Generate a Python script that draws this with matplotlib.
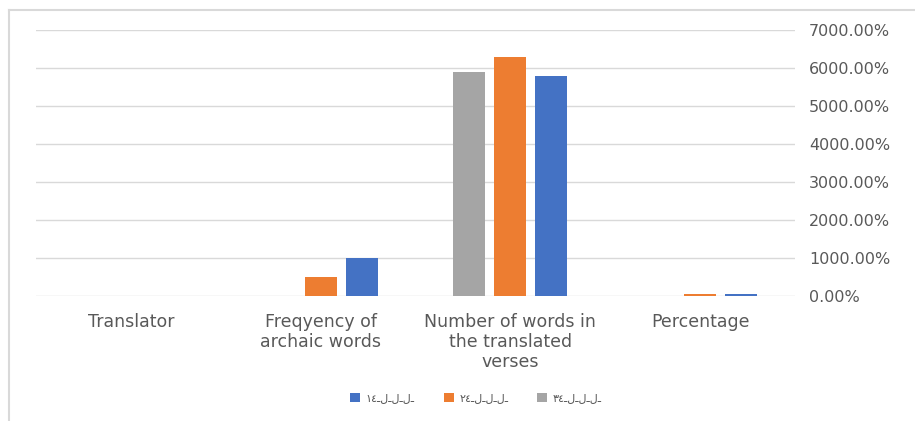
import numpy as np
import matplotlib.pyplot as plt
from matplotlib.lines import Line2D
from matplotlib.ticker import FuncFormatter

plt.rcParams['font.family'] = ['DejaVu Sans']

# ==================== 数据 ====================
categories = ['Translator', 'Freqyency of\narchaic words',
              'Number of words in\nthe translated\nverses', 'Percentage']
series_names = ['١٤ـلـلـلـ', '٢٤ـلـلـلـ', '٣٤ـلـلـلـ']
# values in percent, as shown on the axis
s1_blue = [0, 1000, 5800, 40]
s2_orange = [0, 510, 6300, 40]
s3_gray = [0, 0, 5900, 0]
y_ticks = [0, 1000, 2000, 3000, 4000, 5000, 6000, 7000]

colors = ['#4472C4', '#ED7D31', '#A5A5A5']
text_color = '#595959'
grid_color = '#D9D9D9'

fig = plt.figure(figsize=(9.15, 4.21), dpi=100)
ax = fig.add_axes([36 / 915, 1 - 296 / 421, (795 - 36) / 915, (296 - 30) / 421])

x = np.arange(len(categories))
w = 0.168
off = 0.216
# drawn order left -> right: gray, orange, blue
ax.bar(x - off, s3_gray, w, color=colors[2], label=series_names[2], zorder=3)
ax.bar(x, s2_orange, w, color=colors[1], label=series_names[1], zorder=3)
ax.bar(x + off, s1_blue, w, color=colors[0], label=series_names[0], zorder=3)

ax.set_xlim(-0.5, len(categories) - 0.5)
ax.set_ylim(0, 7000)
ax.set_yticks(y_ticks)
ax.yaxis.tick_right()
ax.yaxis.set_major_formatter(FuncFormatter(lambda v, p: f'{v:.2f}%'))
ax.tick_params(axis='y', length=0, pad=10, labelsize=11.5, labelcolor=text_color)
for lbl in ax.get_yticklabels():
    lbl.set_horizontalalignment('left')
ax.set_xticks(x)
ax.set_xticklabels(categories, fontsize=12.5, color=text_color, linespacing=1.15)
ax.tick_params(axis='x', length=0, pad=12)
ax.grid(axis='y', color=grid_color, linewidth=1, zorder=0)
for s in ax.spines.values():
    s.set_visible(False)

# legend order: blue, orange, gray
h, l = ax.get_legend_handles_labels()
order = [2, 1, 0]
ax.legend([h[i] for i in order], [l[i] for i in order], loc='center',
          bbox_to_anchor=(476 / 915, 1 - 398 / 421), bbox_transform=fig.transFigure,
          ncol=3, frameon=False, fontsize=8, handlelength=0.9, handleheight=0.9,
          columnspacing=2.6, handletextpad=0.5, labelcolor=text_color)

# outer chart frame (only top and left visible in the crop)
fig.add_artist(Line2D([9 / 915, 1], [1 - 10 / 421, 1 - 10 / 421], color=grid_color, lw=1.5))
fig.add_artist(Line2D([9 / 915, 9 / 915], [0, 1 - 10 / 421], color=grid_color, lw=1.5))

fig.savefig('out.png', dpi=100)
